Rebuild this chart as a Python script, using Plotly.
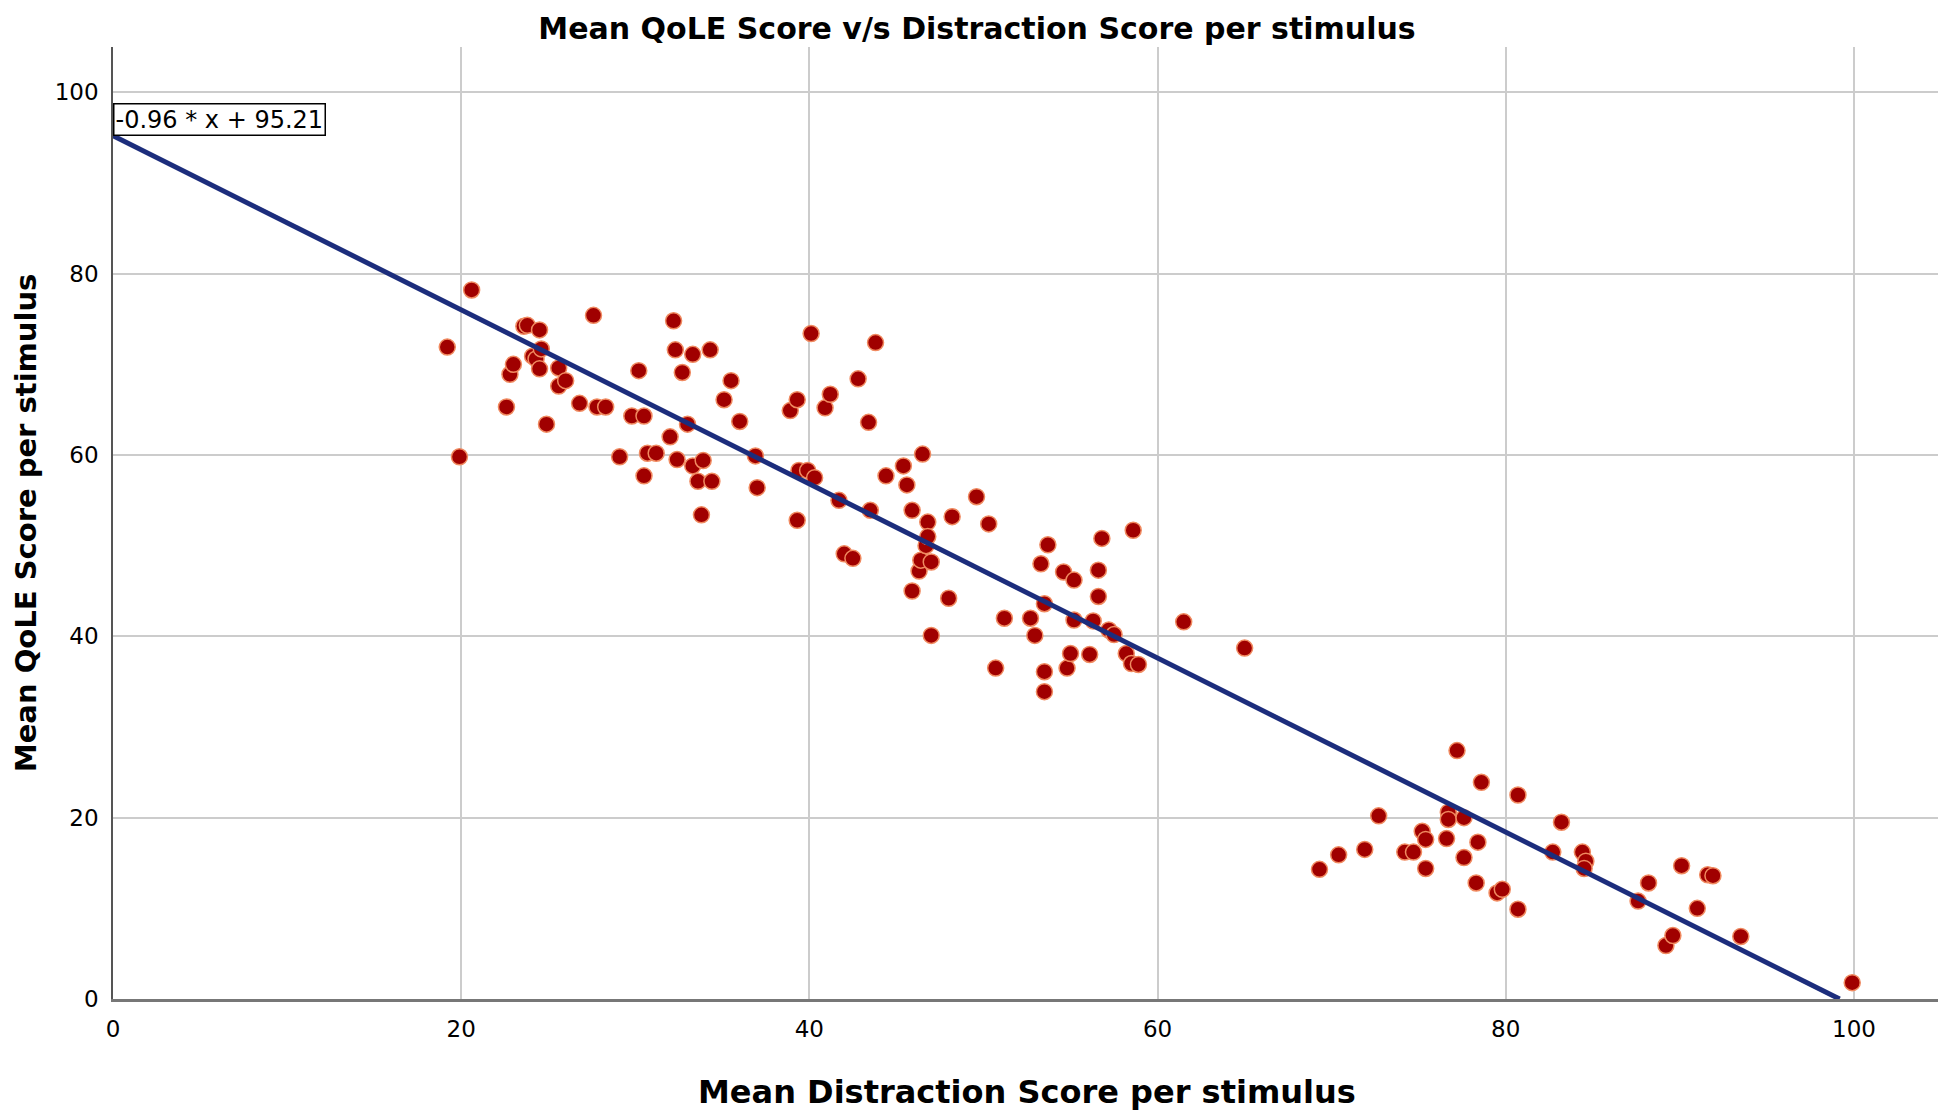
import plotly.graph_objects as go

# Mean Distraction Score per stimulus (x) and Mean QoLE Score per stimulus (y)
distraction = [
    19.2, 19.9, 20.6, 22.6, 22.8, 23.0, 23.6, 23.8, 24.5, 24.1, 24.3, 24.6, 24.5, 24.9,
    25.6, 25.6, 26.0, 26.8, 27.6, 27.8, 28.3, 29.1, 29.8, 30.2, 30.5, 30.5, 30.7, 31.2,
    32.0, 32.2, 32.3, 32.4, 32.7, 33.0, 33.3, 33.3, 33.6, 33.8, 33.9, 34.3, 34.4, 35.1,
    35.5, 36.0, 36.9, 37.0, 38.9, 39.3, 39.3, 39.4, 39.9, 40.1, 40.3, 40.9, 41.2, 41.7,
    42.0, 42.5, 42.8, 43.4, 43.5, 43.8, 44.4, 45.4, 45.6, 45.9, 45.9, 46.5, 46.3, 46.4,
    46.7, 46.8, 46.8, 47.0, 47.0, 48.0, 48.2, 49.6, 50.3, 50.7, 51.2, 52.7, 52.95, 53.3,
    53.5, 53.5, 53.5, 53.7, 54.6, 54.8, 55.0, 55.2, 55.2, 56.1, 56.3, 56.6, 56.6, 56.8,
    57.2, 57.5, 58.2, 58.5, 58.9, 58.6, 61.5, 65.0,
    69.3, 70.4, 71.9, 72.7, 74.2, 74.7, 75.2, 75.4, 75.4, 76.6, 76.7, 76.7, 77.2, 77.6,
    77.6, 78.4, 78.3, 78.6, 79.5, 79.8, 80.7, 80.7, 82.7, 83.2, 84.4, 84.6, 84.5, 87.6,
    88.2, 89.2, 89.6, 90.1, 91.0, 91.6, 91.9, 93.5, 99.9,
]
qole = [
    71.9, 59.8, 78.2, 65.3, 68.9, 70.0, 74.2, 74.3, 73.8, 70.9, 70.6, 71.7, 69.5, 63.4,
    69.6, 67.6, 68.2, 65.7, 75.4, 65.3, 65.3, 59.8, 64.3, 69.3, 64.3, 57.7, 60.2, 60.2,
    62.0, 74.8, 71.6, 59.5, 69.1, 63.4, 71.1, 58.8, 57.1, 53.4, 59.4, 71.6, 57.1, 66.1,
    68.2, 63.7, 59.9, 56.4, 64.9, 66.1, 52.8, 58.3, 58.3, 73.4, 57.5, 65.2, 66.7, 55.0,
    49.1, 48.6, 68.4, 63.6, 53.9, 72.4, 57.7, 58.8, 56.7, 53.9, 45.0, 60.1, 47.2, 48.4,
    50.0, 52.6, 51.0, 48.2, 40.1, 44.2, 53.2, 55.4, 52.4, 36.5, 42.0, 42.0, 40.1, 48.0,
    36.1, 33.9, 43.6, 50.1, 47.1, 36.5, 38.1, 41.8, 46.2, 38.0, 41.7, 47.3, 44.4, 50.8,
    40.7, 40.2, 38.1, 37.0, 36.9, 51.7, 41.6, 38.7,
    14.3, 15.9, 16.5, 20.2, 16.2, 16.2, 18.5, 17.6, 14.4, 17.7, 20.6, 19.8, 27.4, 20.0,
    15.6, 17.3, 12.8, 23.9, 11.7, 12.1, 22.5, 9.9, 16.2, 19.5, 16.2, 15.2, 14.4, 10.8,
    12.8, 5.9, 7.0, 14.7, 10.0, 13.7, 13.6, 6.9, 1.8,
]

# Fit line parameters (as labelled on the chart)
slope = -0.96
intercept = 95.21
fit_x = [0, -intercept / slope]
fit_y = [slope * v + intercept for v in fit_x]
fit_label = "-0.96 * x + 95.21"

x_ticks = [0, 20, 40, 60, 80, 100]
y_ticks = [0, 20, 40, 60, 80, 100]

FONT = "DejaVu Sans"

fig = go.Figure()
fig.add_trace(go.Scatter(
    x=distraction, y=qole, mode="markers",
    marker=dict(size=16, color="#a00000", line=dict(color="#f08a60", width=1.5)),
    showlegend=False,
))
fig.add_trace(go.Scatter(
    x=fit_x, y=fit_y, mode="lines",
    line=dict(color="#1c2d7c", width=5),
    showlegend=False,
))

fig.add_annotation(
    x=0, y=intercept, xref="x", yref="y", text=fit_label, showarrow=False,
    xanchor="left", yanchor="bottom", bgcolor="white", bordercolor="black",
    borderwidth=1.5, borderpad=1, font=dict(family=FONT, size=24, color="black"),
)
# axis titles
fig.add_annotation(
    x=-0.0475, y=0.5, xref="paper", yref="paper", xanchor="center", yanchor="middle",
    text="<b>Mean QoLE Score per stimulus</b>", showarrow=False, textangle=-90,
    font=dict(family=FONT, size=29, color="black"),
)
fig.add_annotation(
    x=0.5, y=-0.0977, xref="paper", yref="paper", xanchor="center", yanchor="middle",
    text="<b>Mean Distraction Score per stimulus</b>", showarrow=False,
    font=dict(family=FONT, size=32, color="black"),
)

fig.update_layout(
    width=1938, height=1110,
    margin=dict(l=105, r=5, t=39, b=119, autoexpand=False),
    paper_bgcolor="white", plot_bgcolor="white",
    title=dict(
        text="<b>Mean QoLE Score v/s Distraction Score per stimulus</b>",
        x=0.5, xanchor="center", y=0.991, yanchor="top",
        font=dict(family=FONT, size=30, color="black"),
    ),
)
fig.update_xaxes(
    range=[0, 105], tickvals=x_ticks, ticktext=[str(v) for v in x_ticks],
    showgrid=True, gridcolor="#cccccc", gridwidth=2,
    showline=True, linecolor="#777777", linewidth=3,
    zeroline=False, ticks="", ticklabelstandoff=7, automargin=False,
    tickfont=dict(family=FONT, size=23, color="black"),
)
fig.update_yaxes(
    range=[0, 105], tickvals=y_ticks, ticktext=[str(v) for v in y_ticks],
    showgrid=True, gridcolor="#cccccc", gridwidth=2,
    showline=True, linecolor="#555555", linewidth=1.5,
    zeroline=False, ticks="", ticklabelstandoff=8, automargin=False,
    tickfont=dict(family=FONT, size=23, color="black"),
)

fig.write_html("out.html")
